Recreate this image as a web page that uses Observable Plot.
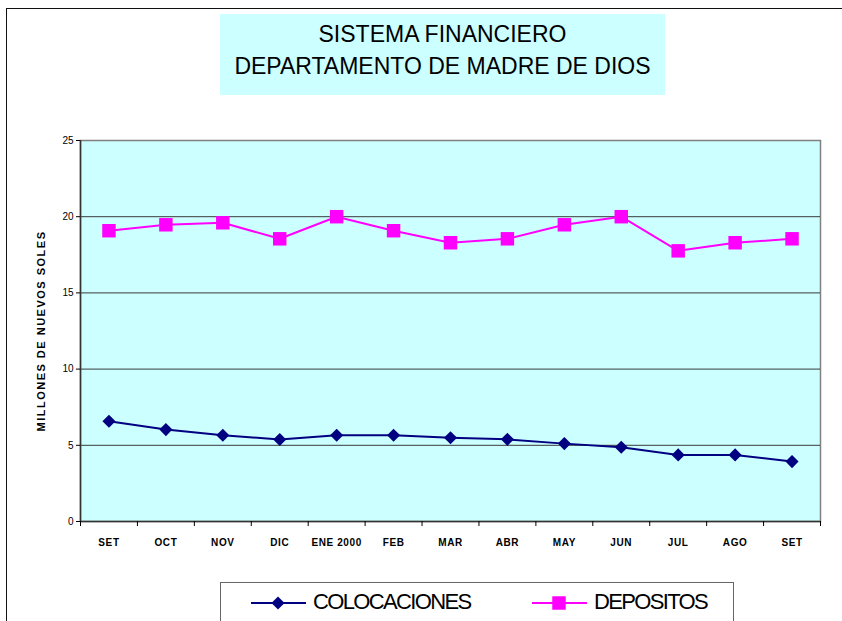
<!DOCTYPE html>
<html><head><meta charset="utf-8">
<script src="https://cdn.jsdelivr.net/npm/d3@7"></script>
<script src="https://cdn.jsdelivr.net/npm/@observablehq/plot@0.6"></script>
<style>
body{margin:0;background:#fff;}
#wrap{position:relative;width:842px;height:621px;overflow:hidden;font-family:"Liberation Sans",Arial,sans-serif;background:#fff;}
#border{position:absolute;left:6px;top:8px;width:900px;height:700px;border-top:1.5px solid #111;border-left:1.5px solid #111;}
#chart{position:absolute;left:0;top:0;}
#title{position:absolute;left:220px;top:14px;width:445px;height:81px;background:#ccffff;text-align:center;font-size:23px;line-height:32px;padding-top:4px;box-sizing:border-box;color:#000;}
#legend{position:absolute;left:0;top:0;}
#chart svg text{font-family:"Liberation Sans",Arial,sans-serif;}
</style></head><body>
<div id="wrap">
  <div id="border"></div>
  <div id="chart"></div>
  <div id="title"></div>
  <svg id="legend" width="842" height="621"></svg>
</div>
<script>
const titleLines = ["SISTEMA FINANCIERO", "DEPARTAMENTO DE MADRE DE DIOS"];
const yLabel = "MILLONES DE NUEVOS SOLES";
const months = ["SET","OCT","NOV","DIC","ENE 2000","FEB","MAR","ABR","MAY","JUN","JUL","AGO","SET"];
const colocaciones = [6.58, 6.03, 5.66, 5.38, 5.66, 5.66, 5.5, 5.39, 5.11, 4.87, 4.37, 4.37, 3.93];
const depositos = [19.08, 19.47, 19.6, 18.55, 20.0, 19.08, 18.29, 18.55, 19.47, 20.0, 17.76, 18.29, 18.55];
const yTicks = [0, 5, 10, 15, 20, 25];
const seriesNames = ["COLOCACIONES", "DEPOSITOS"];
const seriesColors = ["#000080", "#ff00ff"];
const seriesSymbols = ["diamond2", "square"];

document.getElementById("title").innerHTML = titleLines.join("<br>");

const idx = months.map((_, i) => i);
const halfTicks = d3.range(-0.5, months.length, 1);
const series = [colocaciones, depositos];
const symR = [5.9, 7.6];

const marks = [
  Plot.frame({fill: "#ccffff", stroke: "#808080", strokeWidth: 1.5}),
  Plot.ruleY(yTicks.filter(t => t > 0 && t < 25), {stroke: "#3a3a3a", strokeWidth: 1}),
  Plot.ruleX([-0.5], {stroke: "#333", strokeWidth: 1.5}),
  Plot.ruleY([0], {stroke: "#333", strokeWidth: 1.5}),
  Plot.axisY({ticks: yTicks, tickSize: 4, tickPadding: 3, label: null, tickFormat: d => String(d), fontSize: 10}),
  Plot.axisX({ticks: halfTicks, tickSize: 5, tickFormat: () => "", label: null}),
  Plot.axisX({ticks: idx, tickSize: 0, tickPadding: 17, tickFormat: i => months[i], label: null, fontSize: 10, fontWeight: "bold"}),
  Plot.text([yLabel], {frameAnchor: "left", textAnchor: "middle", rotate: -90, dx: -39, fontSize: 11, fontWeight: "bold", fill: "#000"})
];
series.forEach((vals, s) => {
  marks.push(Plot.line(vals, {x: (d, i) => i, y: d => d, stroke: seriesColors[s], strokeWidth: 2}));
  marks.push(Plot.dot(vals, {x: (d, i) => i, y: d => d, fill: seriesColors[s], stroke: "none", symbol: seriesSymbols[s], r: symR[s]}));
});

const plot = Plot.plot({
  width: 842, height: 621,
  marginLeft: 80, marginRight: 22, marginTop: 140, marginBottom: 100,
  style: {background: "transparent", fontFamily: "Liberation Sans, Arial, sans-serif", fontSize: "10px", color: "#000", overflow: "visible"},
  x: {type: "linear", domain: [-0.5, months.length - 0.5]},
  y: {domain: [0, 25]},
  marks
});
document.getElementById("chart").appendChild(plot);
// spacing tweaks for small labels
d3.select(plot).selectAll("text").filter(function(){ return this.textContent === yLabel; }).attr("letter-spacing", "1.5");
d3.select(plot).selectAll("text").filter(function(){ return months.includes(this.textContent); }).attr("letter-spacing", "0.6");

// legend
const lg = d3.select("#legend");
lg.append("rect").attr("x", 220.5).attr("y", 582.5).attr("width", 513).attr("height", 60)
  .attr("fill", "#fff").attr("stroke", "#666").attr("stroke-width", 1);
const legX = [251, 532];
const sym = [d3.symbolDiamond2, d3.symbolSquare];
seriesNames.forEach((name, s) => {
  const x0 = legX[s];
  lg.append("line").attr("x1", x0).attr("x2", x0 + 55).attr("y1", 603).attr("y2", 603)
    .attr("stroke", seriesColors[s]).attr("stroke-width", 2);
  lg.append("path").attr("transform", `translate(${x0 + 27},603)`)
    .attr("d", d3.symbol(sym[s], symR[s] * symR[s] * Math.PI)()).attr("fill", seriesColors[s]);
  lg.append("text").attr("x", x0 + 62).attr("y", 609).text(name)
    .attr("font-family", "Liberation Sans, Arial, sans-serif").attr("font-size", 22)
    .attr("letter-spacing", "-1.65").attr("fill", "#000");
});
</script>
</body></html>
